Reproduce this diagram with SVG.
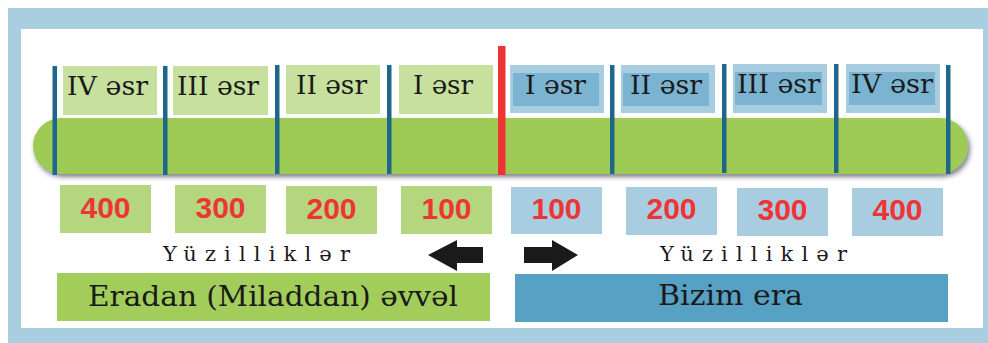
<svg xmlns="http://www.w3.org/2000/svg" width="988" height="343" viewBox="0 0 988 343">
<defs>
<filter id="sh" x="-5%" y="-30%" width="110%" height="170%">
<feDropShadow dx="2" dy="3" stdDeviation="2.5" flood-color="#3a3a50" flood-opacity="0.65"/>
</filter>
<style>
.era{font-family:"DejaVu Serif","Liberation Serif",serif;font-size:26px;fill:#1a1a1a;text-anchor:middle}
.num{font-family:"Liberation Sans",Arial,sans-serif;font-weight:bold;font-size:30px;fill:#ee3535;text-anchor:middle}
.yz{font-family:"DejaVu Serif","Liberation Serif",serif;font-size:21px;fill:#1a1a1a}
.big{font-family:"DejaVu Serif","Liberation Serif",serif;font-size:27px;fill:#1a1a1a;text-anchor:middle}
.tick{fill:#1e668c}
.gtop{fill:#c7e09d}
.btop{fill:#a8cde0}
.binner{fill:#7bb4d1}
.gnum{fill:#b4d67e}
.bnum{fill:#a9cde0}
.arrow{fill:#1a1a1a}
</style>
</defs>
<rect x="8" y="8" width="980" height="335" fill="#a9cee0"/>
<rect x="21" y="29" width="962" height="299" fill="#ffffff"/>

<g id="timeline-bar">
<rect x="33" y="118" width="935" height="56" rx="28" ry="28" fill="#9dcb54" filter="url(#sh)"/>
</g>

<g id="ticks">
<rect class="tick" x="52.5" y="66" width="4.5" height="109"/>
<rect class="tick" x="163" y="66" width="4.5" height="109"/>
<rect class="tick" x="275" y="65" width="4.5" height="109"/>
<rect class="tick" x="387" y="65" width="4.5" height="109"/>
<rect class="tick" x="610" y="65" width="4.5" height="109"/>
<rect class="tick" x="722" y="64" width="4.5" height="109"/>
<rect class="tick" x="834" y="64" width="4.5" height="109"/>
<rect class="tick" x="946" y="65" width="4.5" height="109"/>
<rect x="498" y="46" width="7.5" height="129" fill="#ee3333"/>
</g>

<g id="bc-4">
<rect class="gtop" x="63" y="66" width="94" height="49"/>
<text class="era" x="107.5" y="95" textLength="81" lengthAdjust="spacingAndGlyphs">IV əsr</text>
<rect class="gnum" x="60" y="185" width="91" height="48"/>
<text class="num" x="105.5" y="218">400</text>
</g>
<g id="bc-3">
<rect class="gtop" x="173" y="66" width="95" height="49"/>
<text class="era" x="218" y="95" textLength="82" lengthAdjust="spacingAndGlyphs">III əsr</text>
<rect class="gnum" x="175" y="185" width="91" height="48"/>
<text class="num" x="220.5" y="218">300</text>
</g>
<g id="bc-2">
<rect class="gtop" x="286" y="65" width="94" height="49"/>
<text class="era" x="331.5" y="94" textLength="71" lengthAdjust="spacingAndGlyphs">II əsr</text>
<rect class="gnum" x="286" y="186" width="91" height="48"/>
<text class="num" x="331.5" y="219">200</text>
</g>
<g id="bc-1">
<rect class="gtop" x="399" y="65" width="94" height="49"/>
<text class="era" x="443" y="94" textLength="60" lengthAdjust="spacingAndGlyphs">I əsr</text>
<rect class="gnum" x="401" y="186" width="91" height="48"/>
<text class="num" x="446.5" y="219">100</text>
</g>

<g id="ad-1">
<rect class="btop" x="510" y="65" width="94" height="48"/>
<rect class="binner" x="513" y="73" width="86" height="33"/>
<text class="era" x="555.5" y="94" textLength="61" lengthAdjust="spacingAndGlyphs">I əsr</text>
<rect class="bnum" x="511" y="187" width="91" height="47"/>
<text class="num" x="556.5" y="219">100</text>
</g>
<g id="ad-2">
<rect class="btop" x="621" y="65" width="94" height="48"/>
<rect class="binner" x="623" y="73" width="86" height="33"/>
<text class="era" x="666" y="94" textLength="72" lengthAdjust="spacingAndGlyphs">II əsr</text>
<rect class="bnum" x="626" y="187" width="91" height="48"/>
<text class="num" x="671.5" y="219">200</text>
</g>
<g id="ad-3">
<rect class="btop" x="733" y="64" width="94" height="49"/>
<rect class="binner" x="735" y="72" width="87" height="33"/>
<text class="era" x="778.5" y="93" textLength="83" lengthAdjust="spacingAndGlyphs">III əsr</text>
<rect class="bnum" x="737" y="188" width="91" height="48"/>
<text class="num" x="782.5" y="220">300</text>
</g>
<g id="ad-4">
<rect class="btop" x="846" y="64" width="94" height="49"/>
<rect class="binner" x="849" y="72" width="86" height="33"/>
<text class="era" x="892" y="93" textLength="82" lengthAdjust="spacingAndGlyphs">IV əsr</text>
<rect class="bnum" x="852" y="188" width="91" height="48"/>
<text class="num" x="897.5" y="220">400</text>
</g>

<g id="label-left">
<text class="yz" x="163" y="261" textLength="187" lengthAdjust="spacing">Yüzilliklər</text>
</g>
<g id="label-right">
<text class="yz" x="660" y="261" textLength="187" lengthAdjust="spacing">Yüzilliklər</text>
</g>

<g id="connectors">
<path class="arrow" d="M428,255 L457,240 L457,247 L483,247 L483,263 L457,263 L457,271 Z"/>
<path class="arrow" d="M578,255 L552,240 L552,247 L524,247 L524,263 L552,263 L552,271 Z"/>
</g>

<g id="era-before">
<rect x="57" y="273" width="433" height="48" fill="#a3cd5b"/>
<text class="big" x="273" y="306" textLength="370" lengthAdjust="spacingAndGlyphs">Eradan (Miladdan) əvvəl</text>
</g>
<g id="era-ours">
<rect x="515" y="274" width="433" height="48" fill="#57a2c4"/>
<text class="big" x="730.5" y="305" textLength="145" lengthAdjust="spacingAndGlyphs">Bizim era</text>
</g>
</svg>
